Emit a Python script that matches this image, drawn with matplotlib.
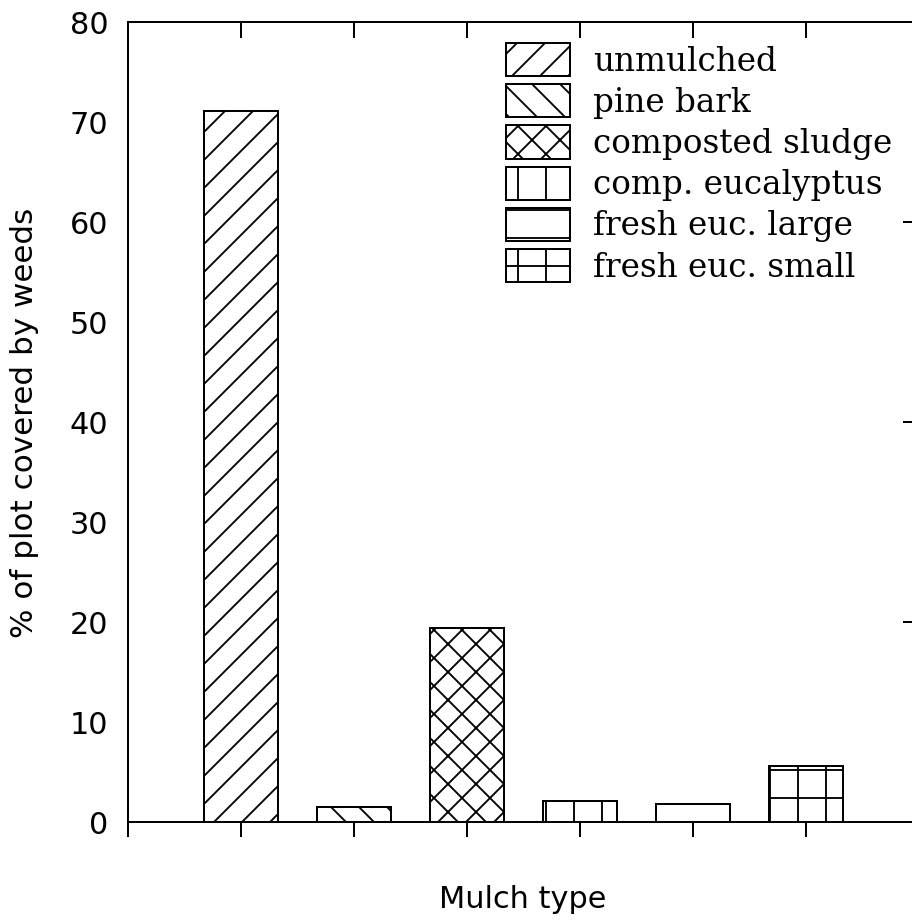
import matplotlib
matplotlib.use('Agg')
from matplotlib import pyplot as plt
import numpy as np

# values
mulches = ['unmulched', 'pine bark', 'composted sludge', 'comp. eucalyptus',
           'fresh euc. large', 'fresh euc. small']
weed_cover = [71.1, 1.5, 19.4, 2.1, 1.8, 5.6]
hatches = ['//', '\\\\', 'xx', '|', '-', '+']
y_ticks = [0, 10, 20, 30, 40, 50, 60, 70, 80]

# hatch spacing in matplotlib scales with dpi, so dpi sets the hatch size
dpi = 168
plt.rcParams['hatch.linewidth'] = 0.8
plt.rcParams['font.family'] = ['DejaVu Sans']

fig = plt.figure(figsize=(912 / dpi, 920 / dpi), dpi=dpi)
ax = fig.add_axes([128 / 912, 98 / 920, (919 - 128) / 912, (898 - 98) / 920])

x = np.arange(1, len(mulches) + 1)
for xi, val, h, name in zip(x, weed_cover, hatches, mulches):
    ax.bar(xi, val, width=0.66, facecolor='white', edgecolor='black',
           linewidth=0.85, hatch=h, label=name, zorder=2)

ax.set_xlim(0, 7)
ax.set_ylim(0, 80)
ax.set_yticks(y_ticks)
ax.set_xticks(np.arange(0, 7))
ax.set_xticklabels([])
ax.tick_params(axis='x', direction='inout', length=12.9, width=0.85, bottom=True, top=False)
ax.tick_params(axis='y', left=False, right=False, length=0, labelsize=13, pad=8.5)
for s in ax.spines.values():
    s.set_linewidth(0.85)

# inward ticks on top and right
top = ax.secondary_xaxis('top')
top.set_xticks(x)
top.set_xticklabels([])
top.tick_params(direction='in', length=6.9, width=0.85)
top.spines['top'].set_linewidth(0.85)
right = ax.secondary_yaxis('right')
right.set_yticks([0, 20, 40, 60, 80])
right.set_yticklabels([])
right.tick_params(direction='in', length=6.9, width=0.85)
right.spines['right'].set_linewidth(0.85)

fig.text(523 / 912, 1 - 900 / 920, 'Mulch type', ha='center', va='center', fontsize=13)
fig.text(25 / 912, 1 - 423 / 920, '% of plot covered by weeds', ha='center', va='center',
         rotation=90, fontsize=13.3)

ax.legend(loc='upper left', bbox_to_anchor=(506 / 912, 1 - 43 / 920),
          bbox_transform=fig.transFigure, frameon=False, borderpad=0, borderaxespad=0,
          handlelength=1.96, handleheight=1.19, labelspacing=0.2, handletextpad=0.7,
          prop={'family': 'DejaVu Serif', 'size': 14})

plt.savefig('out.png', dpi=dpi)
